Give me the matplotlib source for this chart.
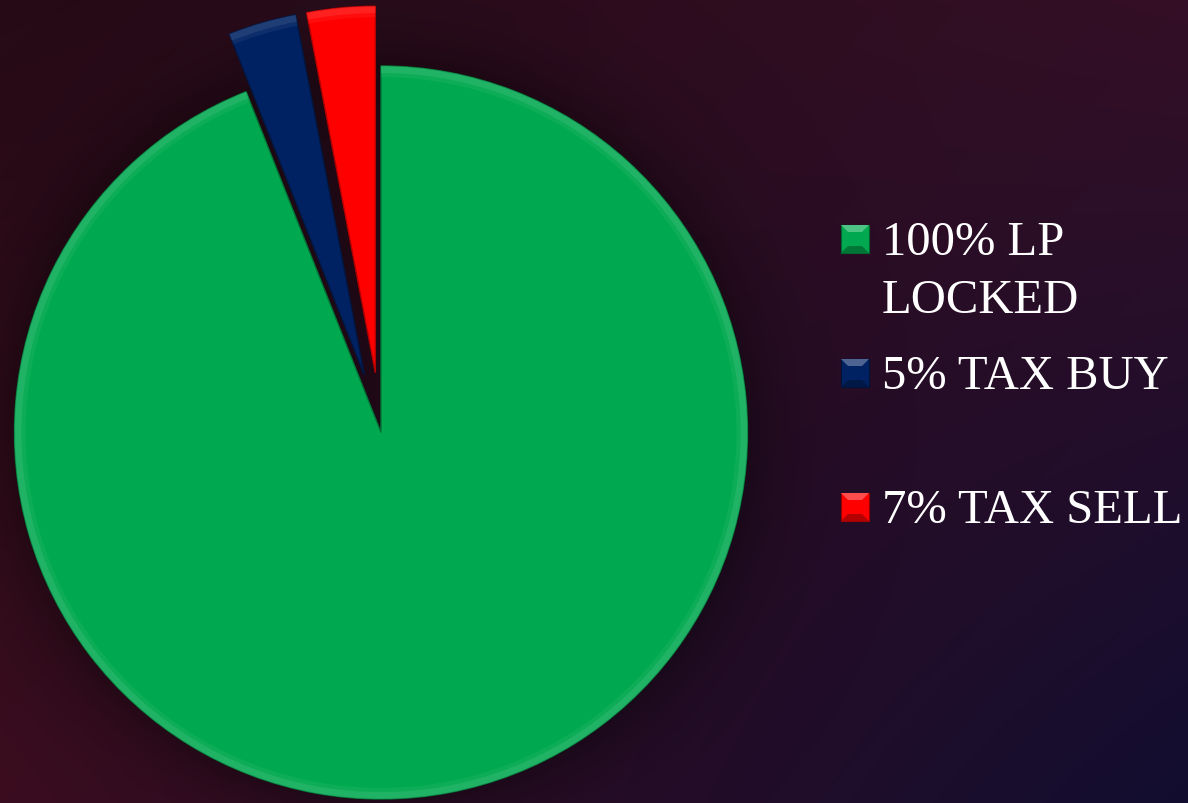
import numpy as np
import matplotlib
matplotlib.use("Agg")
import matplotlib.pyplot as plt
from matplotlib.patches import Wedge, Rectangle, Polygon
import matplotlib.colors as mcolors

# ---- data ----
labels = ["100% LP\nLOCKED", "5% TAX BUY", "7% TAX SELL"]
values = [94, 3, 3]
colors = ["#00A94F", "#002263", "#FF0000"]
explode_px = [0, 60, 60]

W, H = 1188, 804
fig = plt.figure(figsize=(W / 100, H / 100), dpi=100)
ax = fig.add_axes([0, 0, 1, 1])

# ---- background gradient ----
yy, xx = np.mgrid[0:H, 0:W].astype(float)
u = (xx / (W - 1))[..., None]
v = (yy / (H - 1))[..., None]
TL = np.array([38, 11, 22]); TR = np.array([52, 15, 38])
BL = np.array([60, 14, 32]); BR = np.array([18, 13, 48])
bg = ((1 - u) * (1 - v) * TL + u * (1 - v) * TR + (1 - u) * v * BL + u * v * BR) / 255.0
ax.imshow(bg, extent=(0, W, 0, H), origin="upper", zorder=0, interpolation="bilinear")

# pie geometry (pixel coordinates)
cx, cy_top, R = 381.0, 433.5, 366.5
d = np.hypot(xx - cx, yy - cy_top)
alpha = np.clip(0.32 * np.exp(-(d - R) / 38.0), 0, 0.32)
sh = np.zeros((H, W, 4))
sh[..., 3] = alpha
ax.imshow(sh, extent=(0, W, 0, H), origin="upper", zorder=1, interpolation="bilinear")

# ---- pie ----
wedges, _ = ax.pie(values, colors=colors, startangle=90, counterclock=False,
                   explode=explode_px, radius=R, center=(cx, H - cy_top),
                   wedgeprops=dict(linewidth=1.0))
for w, c in zip(wedges, colors):
    w.set_zorder(3)
    rgb = np.array(mcolors.to_rgb(c))
    dark = rgb * 0.7
    light = rgb + (1 - rgb) * 0.18
    w.set_edgecolor(dark)
    ring = Wedge(w.center, w.r, w.theta1, w.theta2, width=7, facecolor=light,
                 alpha=0.7, linewidth=0, zorder=4)
    ax.add_patch(ring)
    ring2 = Wedge(w.center, w.r - 7, w.theta1, w.theta2, width=4, facecolor=light,
                  alpha=0.3, linewidth=0, zorder=4)
    ax.add_patch(ring2)

ax.set_xlim(0, W)
ax.set_ylim(0, H)
ax.axis("off")

# ---- legend ----
font = dict(family=["Liberation Serif", "DejaVu Serif"], size=35, color="white")
mx, msz, tx = 841, 28, 882
base0, step, line_step = 255, 134, 58
for i, (lab, c) in enumerate(zip(labels, colors)):
    bl = base0 + step * i
    yb = H - (bl - 1)
    rgb = np.array(mcolors.to_rgb(c))
    ax.add_patch(Rectangle((mx, yb), msz, msz, facecolor=c, edgecolor=rgb * 0.6,
                           linewidth=0.8, zorder=5))
    ins = 7
    ax.add_patch(Polygon([(mx, yb + msz), (mx + msz, yb + msz), (mx + msz - ins, yb + msz - ins),
                          (mx + ins, yb + msz - ins)], closed=True,
                         facecolor=rgb + (1 - rgb) * 0.3, linewidth=0, zorder=6))
    ax.add_patch(Polygon([(mx, yb), (mx + msz, yb), (mx + msz - ins, yb + ins),
                          (mx + ins, yb + ins)], closed=True,
                         facecolor=rgb * 0.7, linewidth=0, zorder=6))
    for k, line in enumerate(lab.split("\n")):
        ax.text(tx, H - (bl + line_step * k), line, ha="left", va="baseline",
                zorder=7, **font)

fig.savefig("out.png", dpi=100)
